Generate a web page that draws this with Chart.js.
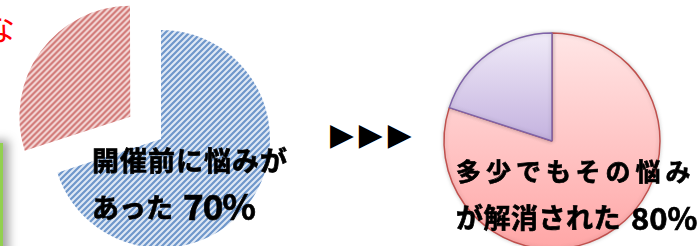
<!DOCTYPE html>
<html><head><meta charset="utf-8">
<script src="https://cdn.jsdelivr.net/npm/chart.js@4/dist/chart.umd.min.js"></script>
<style>
html,body{margin:0;padding:0;width:699px;height:246px;overflow:hidden;background:#fff;}
canvas{position:absolute;}
.t{position:absolute;white-space:nowrap;font-family:"Noto Sans CJK JP",sans-serif;font-weight:700;color:#000;line-height:1;-webkit-text-stroke:0.7px #000;}
</style></head><body>
<div id="green" style="position:absolute;left:-200px;top:143px;width:203px;height:220px;background:#92d050;box-shadow:3px 0 9px 3px rgba(0,0,0,0.35);"></div>
<div class="t" style="left:-17px;top:10px;font-size:32px;font-weight:400;color:#ff0000;-webkit-text-stroke:0;">な</div>
<canvas id="c1" width="322" height="278" style="left:0;top:0;"></canvas>
<canvas id="c2" width="260" height="260" style="left:422px;top:11px;"></canvas>
<div class="t" style="left:92px;top:146px;font-size:27px;letter-spacing:1px;">開催前に悩みが</div>
<div class="t" style="left:92px;top:193px;font-size:27px;letter-spacing:0px;">あった</div>
<div class="t" style="left:183px;top:187px;font-size:35px;letter-spacing:-1px;">70%</div>
<div class="t" style="left:330px;top:119px;font-size:31px;font-family:'DejaVu Sans';font-weight:400;letter-spacing:5px;-webkit-text-stroke:0;">▶▶▶</div>
<div class="t" style="left:456px;top:158px;font-size:25px;letter-spacing:5px;">多少でもその悩み</div>
<div class="t" style="left:456px;top:203px;font-size:27px;letter-spacing:0.5px;">が解消された</div>
<div class="t" style="left:631px;top:201px;font-size:31px;letter-spacing:0px;">80%</div>
<script>
// Data
const beforeLabels = ['悩みがあった', '悩みがなかった'];
const beforeValues = [70, 30];
const afterLabels = ['解消された', '解消されなかった'];
const afterValues = [80, 20];

function hatch(bg, fg) {
  const c = document.createElement('canvas');
  c.width = 6; c.height = 6;
  const x = c.getContext('2d');
  x.fillStyle = bg; x.fillRect(0, 0, 6, 6);
  x.strokeStyle = fg; x.lineWidth = 2.2;
  x.beginPath();
  x.moveTo(-1, 7); x.lineTo(7, -1);
  x.moveTo(-4, 4); x.lineTo(4, -4);
  x.moveTo(2, 10); x.lineTo(10, 2);
  x.stroke();
  return x.createPattern(c, 'repeat');
}
const ctx1 = document.getElementById('c1').getContext('2d');
const bluePat = hatch('#e0e9f5', '#6f97cb');
const redPat = hatch('#f6dfde', '#d07472');

const softShadow = {
  id: 'softShadow',
  beforeDatasetsDraw(chart) {
    const c = chart.ctx; c.save();
    c.shadowColor = 'rgba(0,0,0,0.18)'; c.shadowBlur = 4;
  },
  afterDatasetsDraw(chart) { chart.ctx.restore(); }
};

new Chart(ctx1, {
  type: 'pie',
  data: { labels: beforeLabels, datasets: [{ data: beforeValues,
    backgroundColor: [bluePat, redPat], borderWidth: 0, offset: [0, 152] }] },
  options: { responsive: false, animation: false, radius: 109,
    layout: { padding: 0 },
    plugins: { legend: { display: false }, tooltip: { enabled: false } },
    events: [] }
});

const R2 = 108;
function grad(chart, top, bottom, c1, c2) {
  const area = chart.chartArea;
  if (!area) return c1;
  const cy = (area.top + area.bottom) / 2;
  const g = chart.ctx.createLinearGradient(0, cy + top * R2, 0, cy + bottom * R2);
  g.addColorStop(0, c1); g.addColorStop(1, c2);
  return g;
}
new Chart(document.getElementById('c2'), {
  type: 'pie',
  data: { labels: afterLabels, datasets: [{ data: afterValues,
    backgroundColor: (ctx) => ctx.dataIndex === 0
      ? grad(ctx.chart, -1, 1, '#ffe6e6', '#ffa6a6')
      : grad(ctx.chart, -1, 0, '#f0ebf8', '#c4b2df'),
    borderColor: ['#c0504d', '#7f63a8'], borderWidth: 1.5 }] },
  options: { responsive: false, animation: false, radius: R2,
    layout: { padding: 0 },
    plugins: { legend: { display: false }, tooltip: { enabled: false } },
    events: [] },
  plugins: [softShadow]
});
</script>
</body></html>
